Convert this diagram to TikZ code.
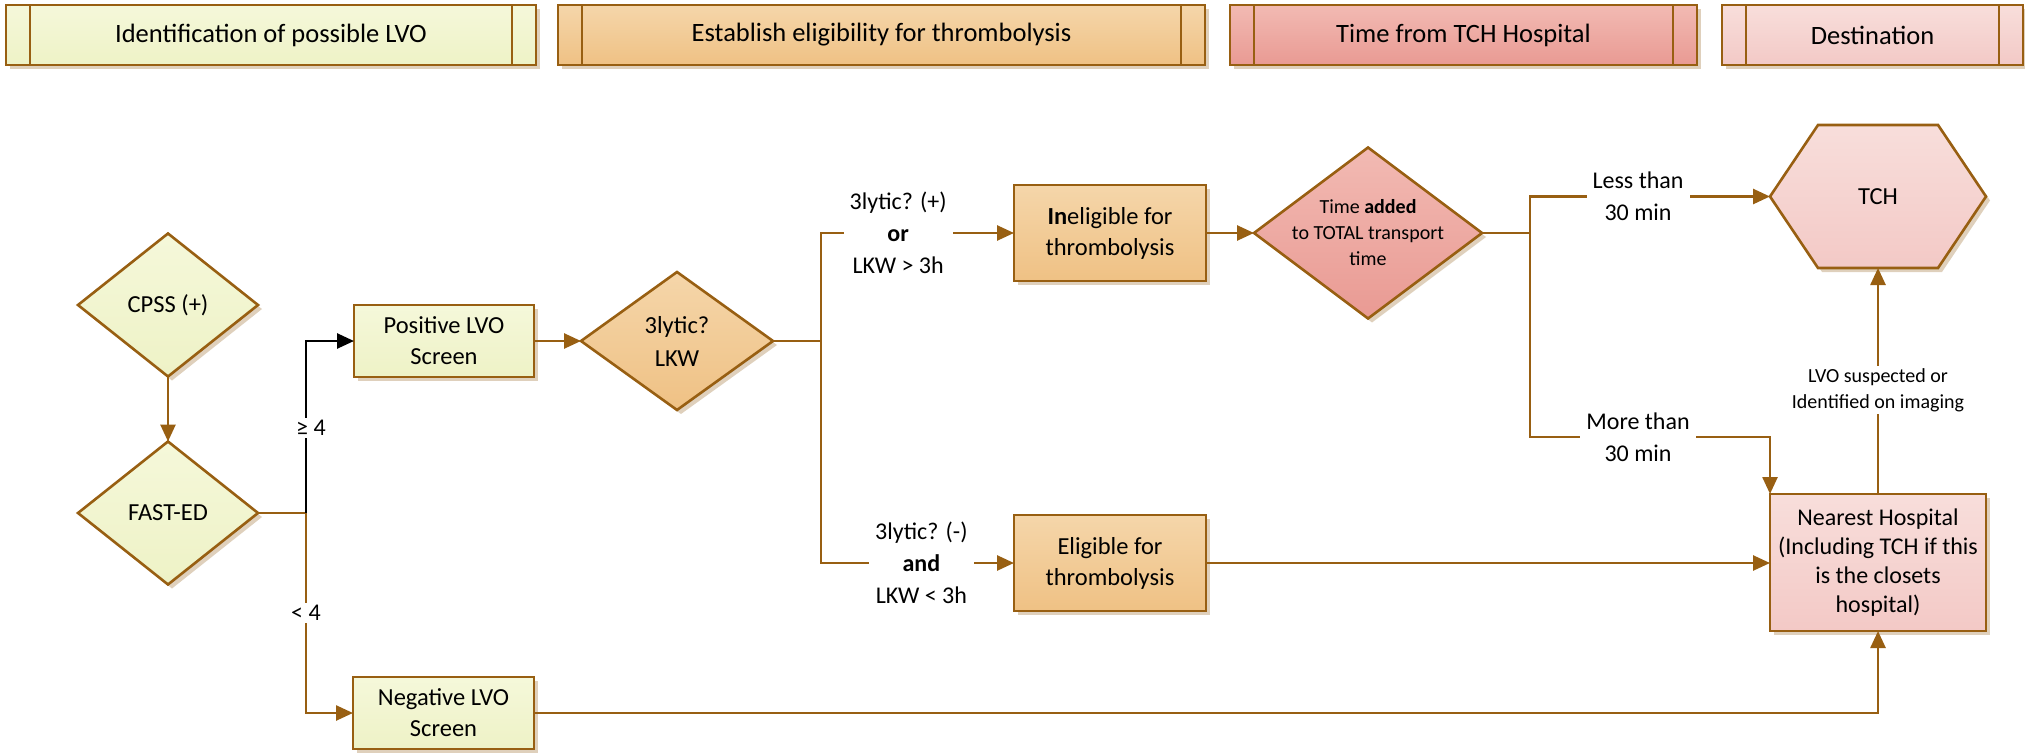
\documentclass[tikz,border=0pt]{standalone}
\usepackage{fontspec}
\setmainfont{Carlito}
\usetikzlibrary{arrows.meta,shapes.geometric,shadows,backgrounds}

\definecolor{brd}{HTML}{985F12}
\definecolor{ylT}{HTML}{F5F8DA}
\definecolor{ylB}{HTML}{EEF2C6}
\definecolor{orT}{HTML}{F5D6AA}
\definecolor{orB}{HTML}{EFC184}
\definecolor{rdT}{HTML}{F2BAB3}
\definecolor{rdB}{HTML}{E99A93}
\definecolor{pkT}{HTML}{F8DEDB}
\definecolor{pkB}{HTML}{F3C9C6}
\definecolor{shd}{HTML}{BFA27A}

\begin{document}
\begin{tikzpicture}[x=1pt,y=-1pt,
  shadowed/.style={drop shadow={shadow xshift=4pt, shadow yshift=-4pt, fill=shd, opacity=0.5}},
  nodebase/.style={draw=brd, line width=2.6pt, inner sep=0pt, outer sep=0pt, align=center, shadowed},
  yl/.style={top color=ylT, bottom color=ylB},
  orf/.style={top color=orT, bottom color=orB},
  rdf/.style={top color=rdT, bottom color=rdB},
  pkf/.style={top color=pkT, bottom color=pkB},
  hdr/.style={nodebase, rectangle, minimum height=60pt, font=\fontsize{26.5}{31}\selectfont},
  boxst/.style={nodebase, rectangle, font=\fontsize{24.5}{31}\selectfont},
  dia/.style={nodebase, diamond},
  dtext/.style={align=center, inner sep=0pt, font=\fontsize{24.5}{33}\selectfont},
  ttext/.style={align=center, inner sep=0pt, font=\fontsize{20}{26}\selectfont},
  bline/.style={draw=brd, line width=2.6pt},
  ln/.style={draw=brd, line width=2.6pt},
  arr/.style={ln, -{Triangle[length=17pt,width=15pt]}},
  lbl/.style={fill=white, inner xsep=6pt, inner ysep=2pt, align=center, text=black, font=\fontsize{24}{32}\selectfont},
  slbl/.style={lbl, font=\fontsize{20}{26}\selectfont},
]
\useasboundingbox (0,0) rectangle (2025,752);

% header bars
\node[hdr, yl, minimum width=530pt] (h1) at (271,35) {Identification of possible LVO};
\node[hdr, orf, minimum width=647pt] (h2) at (881.5,35) {Establish eligibility for thrombolysis};
\node[hdr, rdf, minimum width=467pt] (h3) at (1463.5,35) {Time from TCH Hospital};
\node[hdr, pkf, minimum width=301pt] (h4) at (1872.5,35) {Destination};
\foreach \h in {h1,h2,h3,h4}{
  \draw[bline] ([xshift=24pt]\h.north west) -- ([xshift=24pt]\h.south west);
  \draw[bline] ([xshift=-24pt]\h.north east) -- ([xshift=-24pt]\h.south east);
}

% diamonds
\node[dia, yl, minimum width=180pt, minimum height=143pt,
      label={[dtext]center:CPSS (+)}] (cpss) at (168,305) {};
\node[dia, yl, minimum width=180pt, minimum height=143pt,
      label={[dtext]center:FAST-ED}] (fast) at (168,513) {};
\node[dia, orf, minimum width=192pt, minimum height=138pt,
      label={[dtext]center:{3lytic?\\LKW}}] (lytic) at (677,341) {};
\node[dia, rdf, minimum width=228pt, minimum height=171pt,
      label={[ttext]center:{Time \textbf{added}\\to TOTAL transport\\time}}] (tdia) at (1368,233) {};

% boxes
\node[boxst, yl, minimum width=180pt, minimum height=72pt] (pos) at (444,341) {Positive LVO\\Screen};
\node[boxst, yl, minimum width=181pt, minimum height=72pt] (neg) at (443.5,713) {Negative LVO\\Screen};
\node[boxst, orf, minimum width=192pt, minimum height=96pt] (inel) at (1110,233) {\textbf{In}eligible for\\thrombolysis};
\node[boxst, orf, minimum width=192pt, minimum height=96pt] (elig) at (1110,563) {Eligible for\\thrombolysis};
\node[boxst, pkf, minimum width=216pt, minimum height=137pt, font=\fontsize{24}{29}\selectfont] (near) at (1878,562.5)
  {Nearest Hospital\\(Including TCH if this\\is the closets\\hospital)};

% TCH hexagon
\node[inner sep=0pt, outer sep=0pt, minimum width=216pt, minimum height=143pt, font=\fontsize{24.5}{29}\selectfont] (tch) at (1878,196.5) {TCH};
\begin{scope}[on background layer]
  \draw[draw=brd, line width=2.6pt, pkf, shadowed]
    (tch.west) -- ([xshift=48pt]tch.north west) -- ([xshift=-48pt]tch.north east) -- (tch.east)
    -- ([xshift=-48pt]tch.south east) -- ([xshift=48pt]tch.south west) -- cycle;
\end{scope}

% junctions
\coordinate (j1) at (306,513);
\coordinate (j2) at (821,341);
\coordinate (j3) at (1530,233);
\coordinate (c4) at (1770,437);

% connectors
\draw[arr] (cpss.south) -- (fast.north);
\draw[ln] (fast.east) -- (j1);
\draw[arr] (j1) |- node[lbl, pos=0.25] {< 4} (neg.west);
\draw[arr, draw=black] (j1) |- node[lbl, pos=0.247, xshift=5pt] {≥ 4} (pos.west);
\draw[arr] (pos.east) -- (lytic.west);
\draw[ln] (lytic.east) -- (j2);
\draw[arr] (j2) |- node[lbl, pos=0.70] {3lytic? (+)\\\textbf{or}\\LKW > 3h} (inel.west);
\draw[arr] (j2) |- node[lbl, pos=0.76] {3lytic? (-)\\\textbf{and}\\LKW < 3h} (elig.west);
\draw[arr] (inel.east) -- (tdia.west);
\draw[ln] (tdia.east) -- (j3);
\draw[arr] (j3) |- node[lbl, pos=0.725] {Less than\\30 min} (tch.west);
\draw[arr] (j3) |- node[lbl, pos=0.725] {More than\\30 min} (c4) -- (near.north west);
\draw[arr] (elig.east) -- (elig.east -| near.west);
\draw[arr] (neg.east) -| (near.south);
\draw[arr] (near.north) -- node[slbl, pos=0.46] {LVO suspected or\\Identified on imaging} (tch.south);
\end{tikzpicture}
\end{document}
